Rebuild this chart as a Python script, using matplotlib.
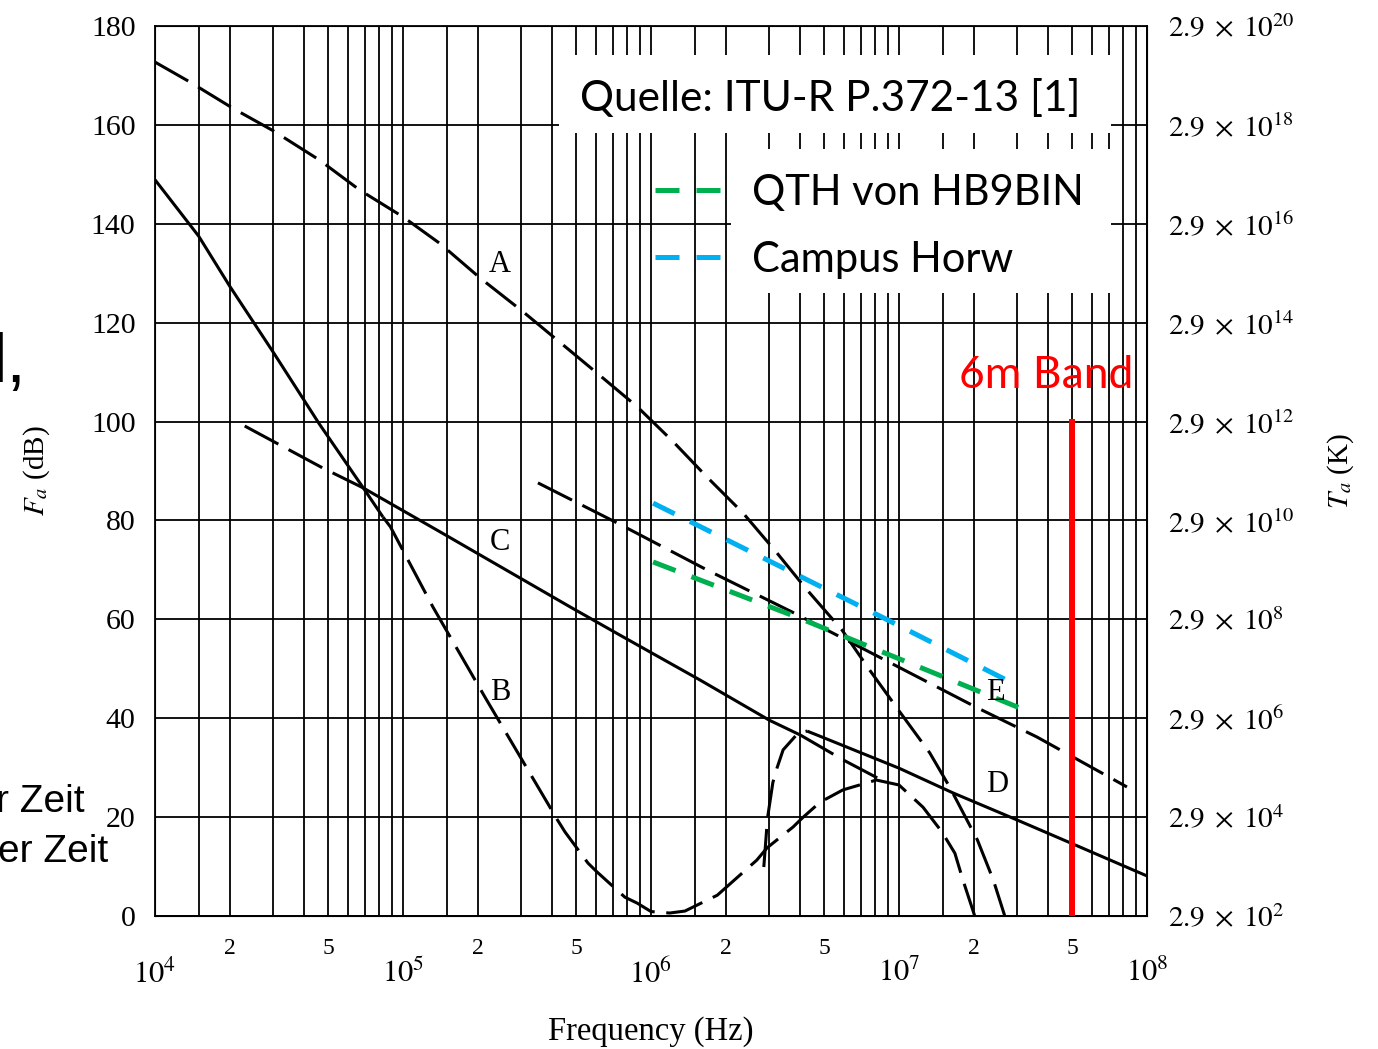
import math
import matplotlib
matplotlib.use('Agg')
import matplotlib.pyplot as plt
from matplotlib.patches import Rectangle
from matplotlib.ticker import FixedLocator, FuncFormatter

# values, frequency in Hz, Fa in dB
a_freq = [1e4, 1.38e4, 2.07e4, 3e4, 4.6e4, 6.7e4, 1e5, 1.41e5, 2.05e5, 3.05e5, 4.3e5,
          6.06e5, 8.8e5, 1.23e6, 1.68e6, 2.35e6, 3.2e6, 4.2e6, 5.9e6, 7.6e6, 1e7,
          1.33e7, 1.6e7, 2.07e7, 2.4e7, 2.67e7]
a_db = [172.7, 168.7, 163.3, 158.8, 152.9, 146.8, 141.4, 136, 129, 122.2, 116,
        109.8, 103, 95.9, 88.8, 81.5, 73.6, 66.3, 57.8, 49.8, 41.5,
        33, 26.1, 15.4, 7.3, 0]

b_solid_freq = [1e4, 1.5e4, 2e4, 3e4, 4.6e4, 7e4, 8.3e4]
b_solid_db = [148.9, 137.5, 127.4, 114, 99.5, 86.2, 80.7]
b_freq = [8.3e4, 8.9e4, 1.32e5, 2.15e5, 4.2e5, 4.5e5, 5.57e5, 6.06e5, 7.85e5, 8.8e5,
          1.0e6, 1.19e6, 1.37e6, 1.85e6, 2.02e6, 2.67e6, 2.94e6, 3.74e6, 4.07e6,
          4.8e6, 5.94e6, 8.1e6, 1e7, 1.25e7, 1.49e7, 1.68e7, 1.81e7, 2.02e7]
b_db = [80.7, 78.7, 62.5, 44.1, 19.4, 17, 10.7, 8.9, 3.8, 2.6,
        0.9, 0.6, 1.0, 4.2, 5.9, 11.3, 13.8, 18, 19.8,
        23, 25.5, 27.5, 26.5, 22, 17, 12.7, 7.3, 0]

c_lo_freq = [2.3e4, 4.75e4, 6.9e4]
c_lo_db = [99.1, 90.6, 86.6]
c_freq = [6.9e4, 1.41e5, 4.8e5, 7.5e5, 1.58e6, 3.0e6, 4.0e6]
c_db = [86.6, 77.7, 62.3, 56.8, 47.7, 39.6, 36.6]
c_hi_freq = [4.0e6, 5.94e6, 8.2e6]
c_hi_db = [36.6, 31.6, 27.9]

d_rise_freq = [2.85e6, 2.95e6, 3.1e6, 3.22e6, 3.41e6, 3.92e6, 4.26e6]
d_rise_db = [9.9, 19.8, 27.0, 29.9, 33.6, 37.0, 37.4]
d_freq = [4.26e6, 4.67e6, 1e7, 1.65e7, 3e7, 4.8e7, 1e8]
d_db = [37.4, 36.6, 29.9, 24.9, 19.4, 15, 8.1]

e_freq = [3.5e5, 7.3e5, 1.68e6, 3.7e6, 8.3e6, 2.07e7, 3.6e7, 8.3e7]
e_db = [87.6, 79.5, 70, 61.5, 52.4, 42.1, 36.2, 26.1]

hb9bin_freq = [1.02e6, 3.85e6, 3.06e7]
hb9bin_db = [71.6, 60.5, 42.1]
horw_freq = [1.02e6, 8.5e6, 3.0e7]
horw_db = [83.5, 60.5, 46.6]

band_freq = 50e6
band_top = 100

curve_labels = ['A', 'B', 'C', 'D', 'E']
label_freq = [2.46e5, 2.46e5, 2.46e5, 2.48e7, 2.44e7]
label_db = [131.7, 45.3, 75.6, 26.5, 45.3]

plt.rcParams['font.family'] = 'Liberation Serif'
plt.rcParams['mathtext.fontset'] = 'stix'

fig = plt.figure(figsize=(13.78, 10.49), dpi=100)
ax = fig.add_axes([155 / 1378, 133 / 1049, 992 / 1378, 890 / 1049])
ax.set_xscale('log')
ax.set_xlim(1e4, 1e8)
ax.set_ylim(0, 180)

black = dict(color='black', lw=2.2, solid_capstyle='butt', zorder=2)
dash = (12.5, 3.8)
ax.plot(a_freq, a_db, dashes=dash, **black)
ax.plot(b_solid_freq, b_solid_db, **black)
ax.plot(b_freq, b_db, dashes=dash, **black)
ax.plot(c_lo_freq, c_lo_db, dashes=dash, **black)
ax.plot(c_freq, c_db, **black)
ax.plot(c_hi_freq, c_hi_db, dashes=dash, **black)
ax.plot(d_rise_freq, d_rise_db, dashes=dash, **black)
ax.plot(d_freq, d_db, **black)
ax.plot(e_freq, e_db, dashes=dash, **black)

l1, = ax.plot(hb9bin_freq, hb9bin_db, color='#00B050', lw=3.6, dashes=(4.8, 3.4),
              label='QTH von HB9BIN', zorder=3)
l2, = ax.plot(horw_freq, horw_db, color='#00B0F0', lw=3.6, dashes=(4.8, 3.4),
              label='Campus Horw', zorder=3)

ax.plot([band_freq, band_freq], [0, band_top], color='red', lw=4.3, zorder=3)

for lab, f, v in zip(curve_labels, label_freq, label_db):
    ax.text(f, v, lab, fontsize=22, ha='center', va='center', zorder=3)

# white boxes behind the annotation texts
ax.add_patch(Rectangle((4.26e5, 158.4), 7.16e7 - 4.26e5, 174.2 - 158.4,
                       facecolor='white', edgecolor='none', zorder=4))
ax.add_patch(Rectangle((2.1e6, 126.0), 7.16e7 - 2.1e6, 155.1 - 126.0,
                       facecolor='white', edgecolor='none', zorder=4))

sans = 'Lato'
ax.text(5.15e5, 165.3, 'Quelle: ITU-R P.372-13 [1]', fontsize=30.5, family=sans,
        ha='left', va='center', zorder=5)
ax.text(8.8e7, 109.3, '6m Band', fontsize=32, family=sans, color='red',
        ha='right', va='center', zorder=5)

leg = ax.legend(handles=[l1, l2], loc='upper left', bbox_to_anchor=(0.504, 0.834),
                frameon=False, prop={'family': sans, 'size': 30}, handlelength=1.7,
                handletextpad=0.62, labelspacing=0.7, borderpad=0, borderaxespad=0)
leg.set_zorder(6)

# grid and ticks
decades = [1e4, 1e5, 1e6, 1e7, 1e8]
minor = [m * d for d in decades[:-1] for m in [1.5, 2, 3, 4, 5, 6, 7, 8, 9]]
ax.xaxis.set_major_locator(FixedLocator(decades))
ax.xaxis.set_minor_locator(FixedLocator(minor))
ax.xaxis.set_major_formatter(FuncFormatter(lambda v, p: r'$10^{%d}$' % round(math.log10(v))))


def minor_fmt(v, p):
    m = v / 10 ** math.floor(math.log10(v) + 1e-9)
    if abs(m - 2) < 1e-6:
        return '2'
    if abs(m - 5) < 1e-6:
        return '5'
    return ''


ax.xaxis.set_minor_formatter(FuncFormatter(minor_fmt))
ax.set_yticks(range(0, 181, 20))
ax.grid(True, which='both', color='black', lw=1.3)
ax.set_axisbelow(True)
ax.tick_params(which='both', length=0)
ax.tick_params(axis='y', labelsize=21.5, pad=14)
ax.tick_params(axis='x', which='minor', labelsize=17, pad=16)
ax.tick_params(axis='x', which='major', labelsize=22, pad=31)
for s in ax.spines.values():
    s.set_linewidth(1.3)

ax.set_xlabel('Frequency (Hz)', fontsize=23.5, labelpad=19)
ax.set_ylabel(r'$F_a$ (dB)', fontsize=21, labelpad=28)

ax2 = ax.twinx()
ax2.set_ylim(0, 180)
ax2.set_yticks(range(0, 181, 20))
ax2.set_yticklabels([r'$2.9\;\times\;10^{%d}$' % (2 + v // 10) for v in range(0, 181, 20)])
ax2.tick_params(length=0, labelsize=21, pad=15)
ax2.set_ylabel(r'$T_a$ (K)', fontsize=21, labelpad=22)

# fragments of slide text cut off at the left edge
fig.text(26 / 1378, 1 - 382 / 1049, 'l,', fontsize=50, family='Liberation Sans',
         ha='right', va='baseline')
fig.text(85 / 1378, 1 - 812 / 1049, 'r Zeit', fontsize=28, family='Liberation Sans',
         ha='right', va='baseline')
fig.text(108 / 1378, 1 - 862 / 1049, 'er Zeit', fontsize=28, family='Liberation Sans',
         ha='right', va='baseline')

fig.savefig('out.png', dpi=100)
